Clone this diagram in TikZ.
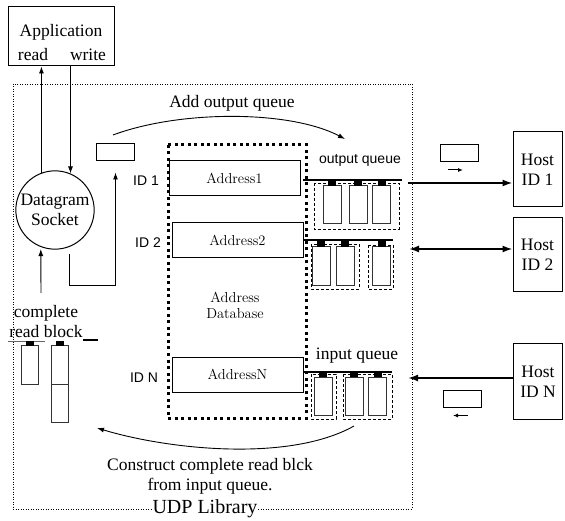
\documentclass[tikz,border=0pt]{standalone}
\usepackage{fontspec}
\usepackage{tikz}
\usetikzlibrary{arrows,arrows.meta}
\newfontfamily\tnr{Liberation Serif}
\newfontfamily\hlv{Liberation Sans}

\tikzset{
  txt/.style={font=\tnr\fontsize{17.5}{20}\selectfont, inner sep=1pt, align=center},
  idtxt/.style={font=\hlv\fontsize{14}{16}\selectfont, inner sep=1pt},
  addr/.style={draw, line width=1pt, font=\fontsize{14.5}{16}\selectfont, inner sep=0pt, minimum width=131pt, minimum height=35pt},
  host/.style={draw, line width=1pt, txt, inner sep=0pt, minimum width=49pt, minimum height=75pt},
  pkt/.style={draw, line width=1pt, inner sep=0pt, minimum width=38pt, minimum height=17pt},
  tip/.style={line width=0.9pt, -{Latex[length=7pt,width=5pt]}},
  cell/.style={draw=black!80, line width=1pt},
  qline/.style={line width=1.9pt},
  grp/.style={line width=0.8pt, dash pattern=on 3pt off 2pt},
  hostarr/.style={line width=1.7pt, -{Latex[length=10pt,width=7pt]}}
}

\begin{document}
\begin{tikzpicture}[x=1pt,y=-1pt]
\useasboundingbox (0,0) rectangle (565,521);

% application
\node[draw, line width=1pt, minimum width=106pt, minimum height=59pt] (app) at (61,36.5) {};
\node[txt] (appl) at (61,32) {Application};
\node[txt] (rd) at (33,55) {read};
\node[txt] (wr) at (88,55) {write};

% UDP library frame
\draw[line width=0.8pt, dash pattern=on 1pt off 1.5pt] (13,84) rectangle (412,509);
\node[txt, fill=white, font=\tnr\fontsize{20}{22}\selectfont] (udp) at (205,509) {UDP Library};

% datagram socket
\node[draw, circle, line width=1pt, minimum size=78pt, inner sep=0pt, txt] (sock) at (55,210) {Datagram\\Socket};
\draw[tip] (sock.110) -- (app.south -| sock.110);
\draw[tip] (app.south -| sock.67) -- (sock.67);
\coordinate (rbtop) at (41,293);
\draw[tip] (rbtop) -- ([yshift=-2pt]sock.-111);

\node[pkt] (pk0) at (115.5,152.5) {};
\draw[tip] ([yshift=-7pt]sock.-68) -- ++(0,32) -| ([yshift=-11pt]pk0.south);

% add output queue
\coordinate (aoq0) at (113,135);
\coordinate (aoq1) at (345,139);
\draw[tip] (aoq0) .. controls (180,110) and (290,110) .. (aoq1);
\node[txt] (aoqt) at (232,103) {Add output queue};

% address database
\draw[line width=3pt, dash pattern=on 3pt off 3.5pt] (168,145) rectangle (306,418);
\node[addr] (a1) at (234.5,178.5) {Address1};
\node[addr] (a2) at (237.5,240.5) {Address2};
\node[addr] (an) at (237.5,374.5) {AddressN};
\node[font=\fontsize{14.5}{16}\selectfont, align=center] (adb) at (235,305) {Address\\Database};
\node[idtxt] (id1) at (146,181) {ID 1};
\node[idtxt] (id2) at (148,243) {ID 2};
\node[idtxt] (idn) at (144,378) {ID N};

% output queue
\node[idtxt] (oq) at (360,160) {output queue};
\draw[qline] (303,180) -- (402,180);
\draw[grp] (314,183) rectangle (399,229);
\foreach \x in {332,358,381.5}{
\draw[cell] (\x-9,186) rectangle (\x+9,224);
\fill (\x-4,180) rectangle (\x+4,186);}

% queue of ID 2
\draw[qline] (303,240) -- (393,240);
\draw[grp] (311,244) rectangle (359,289);
\draw[grp] (368,245) rectangle (393,289);
\foreach \x in {321,345,381.5}{
\draw[cell] (\x-9,247) rectangle (\x+9,286);
\fill (\x-4,240) rectangle (\x+4,247);}

% input queue
\node[txt] (iq) at (357,356) {input queue};
\draw[qline] (303,372) -- (392,372);
\draw[grp] (311,374) rectangle (336,419);
\draw[grp] (343,374) rectangle (392,419);
\foreach \x in {323,354,377.5}{
\draw[cell] (\x-9,377) rectangle (\x+9,415);
\fill (\x-4,372) rectangle (\x+4,377);}

% complete read block
\node[txt] (crb) at (46,322) {complete\\read block};
\draw[line width=0.6pt, black!60] (8,341) -- (45,341);
\draw[qline] (83,340) -- (98,340);
\draw[cell] (21,346) rectangle (38,384);
\draw[cell] (51,346) rectangle (68,384);
\draw[cell] (51,384) rectangle (68,422);
\foreach \x in {30,60}{
\fill (\x-4,341) rectangle (\x+4,346);}

% construct arc
\coordinate (cr0) at (354,426);
\coordinate (cr1) at (97,428);
\draw[tip] (cr0) .. controls (290,462) and (170,450) .. (cr1);
\node[txt] (crt) at (210,476) {Construct complete read blck\\from input queue.};

% hosts
\node[host] (h1) at (537.5,169.5) {Host\\ID 1};
\node[host, minimum height=74pt] (h2) at (537.5,255) {Host\\ID 2};
\node[host] (hn) at (538,381.5) {Host\\ID N};

\coordinate (q1) at (408,183);
\coordinate (q2) at (409,249);
\coordinate (qn) at (408,378);
\draw[hostarr] (q1) -- (q1 -| h1.west);
\draw[hostarr, {Latex[length=10pt,width=7pt]}-{Latex[length=10pt,width=7pt]}] (q2) -- (q2 -| h2.west);
\draw[hostarr] (qn -| hn.west) -- (qn);

% packets
\node[pkt] (pk1) at (459,153) {};
\draw[-{Latex[length=5pt,width=4pt]}, line width=1pt] ([xshift=-11pt,yshift=-8pt]pk1.south) -- ([xshift=4pt,yshift=-8pt]pk1.south);
\node[pkt] (pkn) at (462,398.5) {};
\draw[-{Latex[length=5pt,width=4pt]}, line width=1pt] ([xshift=6pt,yshift=-8pt]pkn.south) -- ([xshift=-9pt,yshift=-8pt]pkn.south);
\end{tikzpicture}
\end{document}
